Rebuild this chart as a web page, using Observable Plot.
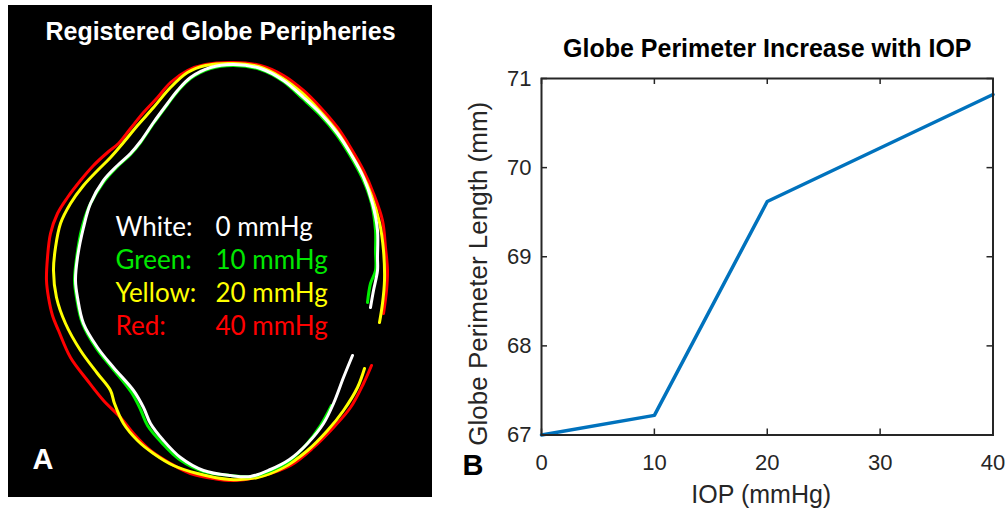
<!DOCTYPE html>
<html>
<head>
<meta charset="utf-8">
<script src="https://cdn.jsdelivr.net/npm/d3@7"></script>
<script src="https://cdn.jsdelivr.net/npm/@observablehq/plot@0.6"></script>
<style>
  html, body { margin: 0; padding: 0; background: #ffffff; }
  #wrap { position: relative; width: 1006px; height: 513px; overflow: hidden; background: #ffffff; }
  #left { position: absolute; left: 8px; top: 5px; width: 424px; height: 492px; background: #000000; }
  #right { position: absolute; left: 432px; top: 0px; }
  svg { display: block; }
</style>
</head>
<body>
<div id="wrap"><div id="left"></div><div id="right"></div></div>
<script>
// ---------- Panel A data: traced globe peripheries (image units) ----------
const whiteOutline = [[370,307],[373,290],[377,270],[377,257],[377,230],[372,203],[363,177],[350,153],[337,133],[320,113],[303,97],[283,80],[260,68],[233,64],[210,67],[190,77],[177,90],[167,103],[153,122],[140,141],[130,153],[117,165],[103,180],[90,203],[83,227],[77,257],[75,280],[77,297],[83,323],[97,347],[113,367],[133,390],[143,407],[150,423],[163,440],[180,457],[203,470],[230,475],[250,476],[270,469],[289,459],[307,443],[323,423],[333,403],[343,377],[352,355]];
const greenOutline = [[367,302],[370,283],[375,270],[375,250],[375,230],[371,203],[362,178],[349,154],[336,134],[319,114],[302,98],[283,81],[260,69],[233,65],[210,68],[190,78],[177,91],[167,104],[153,123],[140,142],[130,154],[116,167],[102,183],[89,205],[81,229],[76,258],[74,280],[76,297],[82,323],[96,348],[112,368],[131,392],[140,409],[147,425],[161,442],[179,459],[203,471],[230,475],[250,476],[268,471],[288,461],[305,445],[320,425],[331,405]];
const yellowOutline = [[379,322],[382,303],[384,280],[383,250],[379,222],[371,195],[361,172],[348,149],[335,129],[318,109],[301,92],[281,77],[258,66],[232,63],[205,65],[187,72],[170,87],[153,107],[137,125],[123,142],[110,157],[97,170],[83,185],[70,203],[60,223],[55,247],[53,270],[56,297],[65,323],[80,350],[97,373],[110,390],[114,403],[123,423],[137,440],[153,453],[173,465],[197,473],[230,479],[257,477],[283,467],[307,450],[327,430],[343,410],[357,387],[364,368]];
const redOutline = [[383,313],[386,290],[387,270],[385,247],[382,220],[373,193],[363,170],[350,147],[337,127],[320,107],[303,90],[283,75],[260,65],[233,62],[205,64],[187,70],[170,82],[157,97],[143,112],[130,128],[118,143],[107,152],[93,165],[80,180],[67,197],[57,213],[50,233],[47,257],[46,280],[48,297],[52,315],[58,330],[70,357],[87,380],[103,400],[120,417],[133,433],[150,450],[170,463],[190,473],[213,478],[233,480],[263,475],[290,465],[313,447],[333,427],[350,407],[363,383],[371,365]];

const leftTitle = "Registered Globe Peripheries";
const legendNames = ["White:", "Green:", "Yellow:", "Red:"];
const legendValues = ["0 mmHg", "10 mmHg", "20 mmHg", "40 mmHg"];
const legendColors = ["#ffffff", "#00e800", "#ffff00", "#ff0000"];
const panelLetters = ["A", "B"];

// ---------- Panel B data ----------
const iop = [0, 10, 20, 40];
const perimeter = [67.0, 67.22, 69.62, 70.82];
const xTicks = [0, 10, 20, 30, 40];
const yTicks = [67, 68, 69, 70, 71];
const rightTitle = "Globe Perimeter Increase with IOP";
const xLabel = "IOP (mmHg)";
const yLabel = "Globe Perimeter Length (mm)";

// ---------- Panel A ----------
const lineOpts = (c) => ({x: d => d[0], y: d => d[1], stroke: c, strokeWidth: 3, curve: "catmull-rom"});
const legendRows = legendNames.map((n, i) => ({name: n, value: legendValues[i], color: legendColors[i], row: i}));
const font = "Liberation Sans, Arial, sans-serif";

const left = Plot.plot({
  width: 424, height: 492,
  margin: 0,
  style: {background: "#000000", overflow: "visible"},
  x: {domain: [8, 432], axis: null},
  y: {domain: [497, 5], axis: null},
  marks: [
    Plot.line(redOutline, lineOpts("#ff0000")),
    Plot.line(yellowOutline, lineOpts("#ffff00")),
    Plot.line(greenOutline, lineOpts("#00ee00")),
    Plot.line(whiteOutline, lineOpts("#ffffff")),
    Plot.text([leftTitle], {x: 220, y: 39, text: d => d, fill: "#ffffff", fontSize: 25, fontWeight: "bold",
      fontFamily: font, textAnchor: "middle", lineAnchor: "bottom"}),
    Plot.text(legendRows, {x: 115, y: d => 235 + 33 * d.row, text: "name", fill: d => d.color,
      fontSize: 26, fontFamily: "Lato, sans-serif", textAnchor: "start", lineAnchor: "bottom"}),
    Plot.text(legendRows, {x: 215, y: d => 235 + 33 * d.row, text: "value", fill: d => d.color,
      fontSize: 26, fontFamily: "Lato, sans-serif", textAnchor: "start", lineAnchor: "bottom"}),
    Plot.text([panelLetters[0]], {x: 32, y: 468, text: d => d, fill: "#ffffff", fontSize: 29, fontWeight: "bold",
      fontFamily: font, textAnchor: "start", lineAnchor: "bottom"})
  ]
});
document.getElementById("left").appendChild(left);

// ---------- Panel B ----------
const series = iop.map((x, i) => ({iop: x, len: perimeter[i]}));
const tickColor = "#262626";
const W = 574, H = 513, mL = 109, mR = 13.5, mT = 78, mB = 78.5;
const innerW = W - mL - mR, innerH = H - mT - mB, tick = 6;

const right = Plot.plot({
  width: W, height: H,
  marginLeft: mL, marginRight: mR, marginTop: mT, marginBottom: mB,
  style: {fontFamily: font, color: tickColor, background: "transparent", overflow: "visible"},
  x: {domain: [0, 40]},
  y: {domain: [67, 71]},
  marks: [
    Plot.tickX(xTicks, {x: d => d, insetTop: innerH - tick, stroke: tickColor, strokeWidth: 1.5}),
    Plot.tickX(xTicks, {x: d => d, insetBottom: innerH - tick, stroke: tickColor, strokeWidth: 1.5}),
    Plot.tickY(yTicks, {y: d => d, insetRight: innerW - tick, stroke: tickColor, strokeWidth: 1.5}),
    Plot.tickY(yTicks, {y: d => d, insetLeft: innerW - tick, stroke: tickColor, strokeWidth: 1.5}),
    Plot.line(series, {x: "iop", y: "len", stroke: "#0072BD", strokeWidth: 3.5}),
    Plot.frame({stroke: tickColor, strokeWidth: 2}),
    Plot.axisX(xTicks, {anchor: "bottom", tickSize: 0, tickPadding: 19, fontSize: 22, label: null, fill: tickColor, tickFormat: "d"}),
    Plot.axisY(yTicks, {anchor: "left", tickSize: 0, tickPadding: 10, fontSize: 22, label: null, fill: tickColor, tickFormat: "d"}),
    Plot.text([rightTitle], {frameAnchor: "top", dy: -22, text: d => d, fontSize: 25, fontWeight: "bold",
      fill: "#000000", lineAnchor: "bottom", fontFamily: font}),
    Plot.text([xLabel], {frameAnchor: "bottom", dy: 68, dx: -6, text: d => d, fontSize: 25,
      fill: tickColor, lineAnchor: "bottom", fontFamily: font}),
    Plot.text([yLabel], {frameAnchor: "left", dx: -55, dy: 17, rotate: -90, text: d => d, fontSize: 26,
      fill: tickColor, lineAnchor: "bottom", textAnchor: "middle", fontFamily: font}),
    Plot.text([panelLetters[1]], {frameAnchor: "bottom-left", dx: -79, dy: 40, text: d => d, fontSize: 29,
      fontWeight: "bold", fill: "#000000", textAnchor: "start", lineAnchor: "bottom", fontFamily: font})
  ]
});
document.getElementById("right").appendChild(right);
</script>
</body>
</html>
